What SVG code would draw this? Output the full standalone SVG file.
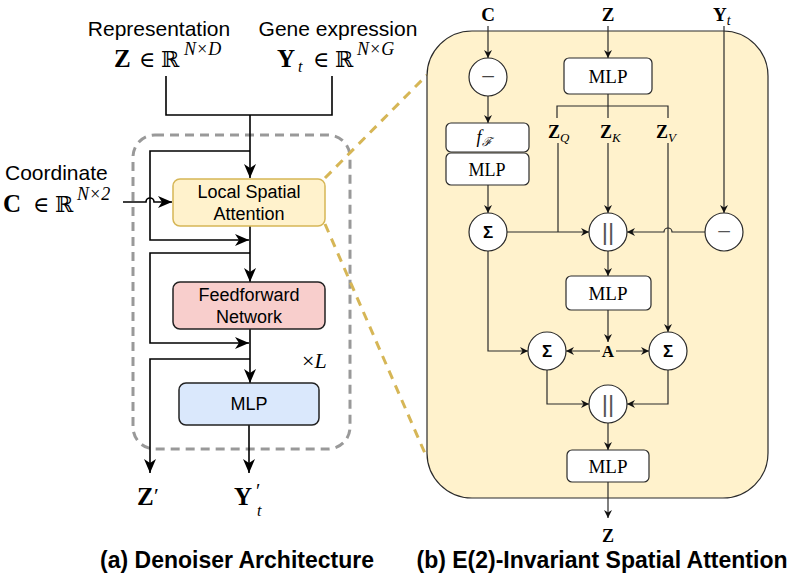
<svg xmlns="http://www.w3.org/2000/svg" width="797" height="578" viewBox="0 0 797 578">
<defs>
<marker id="ah" markerUnits="userSpaceOnUse" viewBox="0 0 14 12" markerWidth="14" markerHeight="12" refX="14" refY="6" orient="auto">
<path d="M0,0 L14,6 L0,12 L4,6 Z" fill="#000"/>
</marker>
<marker id="as" markerUnits="userSpaceOnUse" viewBox="0 0 8 8" markerWidth="8" markerHeight="8" refX="8" refY="4" orient="auto">
<path d="M0,0 L8,4 L0,8 L2.5,4 Z" fill="#111"/>
</marker>
<style>
.sans{font-family:"Liberation Sans",Arial,sans-serif;}
.ser{font-family:"Liberation Serif","DejaVu Serif",serif;}
.bb{font-family:"Liberation Serif","DejaVu Serif",serif;font-weight:bold;}
.it{font-family:"Liberation Serif","DejaVu Serif",serif;font-style:italic;}
.bbs{font-family:"DejaVu Serif",serif;}
.lk{fill:none;stroke:#000;stroke-width:1.6;}
.rk{fill:none;stroke:#2a2a2a;stroke-width:1.2;}
.cir{fill:#fff;stroke:#2a2a2a;stroke-width:1.2;}
.rbox{fill:#fff;stroke:#2a2a2a;stroke-width:1.2;}
.gold{fill:none;stroke:#d6b656;stroke-width:3;stroke-dasharray:9 7;}
</style>
</defs>
<rect width="797" height="578" fill="#fff"/>

<!-- Left panel headers -->
<g id="hdr-z">
<text class="sans" x="159" y="36" font-size="21" text-anchor="middle">Representation</text>
<text class="bb" x="114" y="67" font-size="25">Z</text>
<text class="ser" x="139" y="67" font-size="22">∈</text>
<text class="bbs" x="161" y="67" font-size="22">ℝ</text>
<text class="it" x="184" y="55" font-size="18">N×D</text>
</g>
<g id="hdr-y">
<text class="sans" x="338" y="36" font-size="21" text-anchor="middle">Gene expression</text>
<text class="bb" x="277" y="67" font-size="25">Y</text>
<text class="it" x="298" y="72" font-size="16">t</text>
<text class="ser" x="313" y="67" font-size="22">∈</text>
<text class="bbs" x="335" y="67" font-size="22">ℝ</text>
<text class="it" x="357" y="55" font-size="18">N×G</text>
</g>
<g id="hdr-c">
<text class="sans" x="5" y="180" font-size="21">Coordinate</text>
<text class="bb" x="3" y="212" font-size="25">C</text>
<text class="ser" x="33" y="212" font-size="22">∈</text>
<text class="bbs" x="55" y="212" font-size="22">ℝ</text>
<text class="it" x="77" y="200" font-size="18">N×2</text>
</g>

<!-- repeat block -->
<rect id="repeat" x="133" y="135" width="217" height="314" rx="22" fill="none" stroke="#999" stroke-width="3" stroke-dasharray="9 6"/>
<text class="ser" x="302" y="368" font-size="22">×<tspan class="it">L</tspan></text>

<!-- gold zoom lines -->
<g id="zoomlines">
<line class="gold" x1="325" y1="178" x2="427" y2="75"/>
<line class="gold" x1="325" y1="224" x2="427" y2="458"/>
</g>

<!-- left connectors -->
<g id="left-connectors">
<path class="lk" d="M166,76 V115 H332 V76"/>
<path class="lk" d="M250,115 V178" marker-end="url(#ah)"/>
<path class="lk" d="M250,151 H150 V240 H249" marker-end="url(#ah)"/>
<path class="lk" d="M123,202 H146 A4,4 0 0 1 154,202 H172" marker-end="url(#ah)"/>
<path class="lk" d="M250,226 V282" marker-end="url(#ah)"/>
<path class="lk" d="M250,253 H150 V343 H249" marker-end="url(#ah)"/>
<path class="lk" d="M250,329 V383" marker-end="url(#ah)"/>
<path class="lk" d="M250,359 H150 V473" marker-end="url(#ah)"/>
<path class="lk" d="M249,425 V473" marker-end="url(#ah)"/>
</g>

<!-- left nodes -->
<g id="lsa">
<rect x="173" y="179" width="152" height="47" rx="7" fill="#fff2cc" stroke="#d6b656" stroke-width="1.5"/>
<text class="sans" x="249" y="198" font-size="18" text-anchor="middle">Local Spatial</text>
<text class="sans" x="249" y="220" font-size="18" text-anchor="middle">Attention</text>
</g>
<g id="ffn">
<rect x="173" y="282" width="152" height="47" rx="7" fill="#f8cecc" stroke="#222" stroke-width="1.5"/>
<text class="sans" x="249" y="301" font-size="18" text-anchor="middle">Feedforward</text>
<text class="sans" x="249" y="323" font-size="18" text-anchor="middle">Network</text>
</g>
<g id="mlp-left">
<rect x="179" y="383" width="140" height="42" rx="7" fill="#dae8fc" stroke="#222" stroke-width="1.5"/>
<text class="sans" x="249" y="410" font-size="18" text-anchor="middle">MLP</text>
</g>
<g id="out-z">
<text class="bb" x="137" y="505" font-size="25">Z</text>
<text class="ser" x="154" y="503" font-size="22">′</text>
</g>
<g id="out-y">
<text class="bb" x="234" y="505" font-size="25">Y</text>
<text class="ser" x="256" y="498" font-size="20">′</text>
<text class="it" x="257" y="516" font-size="16">t</text>
</g>
<text class="sans" x="237" y="568" font-size="23" font-weight="bold" text-anchor="middle">(a) Denoiser Architecture</text>

<!-- Right panel -->
<rect id="panel-b" x="427" y="31" width="341" height="467" rx="45" fill="#fff2cc" stroke="#2a2a2a" stroke-width="1.2"/>

<g id="right-connectors">
<path class="rk" d="M488,26 V58" marker-end="url(#as)"/>
<path class="rk" d="M488,96 V123" marker-end="url(#as)"/>
<path class="rk" d="M488,185 V213" marker-end="url(#as)"/>
<path class="rk" d="M608,26 V58" marker-end="url(#as)"/>
<path class="rk" d="M608,94 V118 M557,118 V106 H668 V118"/>
<path class="rk" d="M558,143 V232"/>
<path class="rk" d="M608,143 V213" marker-end="url(#as)"/>
<path class="rk" d="M668,143 V332" marker-end="url(#as)"/>
<path class="rk" d="M507,232 H589" marker-end="url(#as)"/>
<path class="rk" d="M705,232 H672 A4,4 0 0 0 664,232 H627" marker-end="url(#as)"/>
<path class="rk" d="M724,26 V213" marker-end="url(#as)"/>
<path class="rk" d="M608,251 V276" marker-end="url(#as)"/>
<path class="rk" d="M608,310 V342" marker-end="url(#as)"/>
<path class="rk" d="M600,351 H566" marker-end="url(#as)"/>
<path class="rk" d="M616,351 H649" marker-end="url(#as)"/>
<path class="rk" d="M488,251 V351 H528" marker-end="url(#as)"/>
<path class="rk" d="M547,370 V404 H589" marker-end="url(#as)"/>
<path class="rk" d="M668,370 V404 H627" marker-end="url(#as)"/>
<path class="rk" d="M608,423 V450" marker-end="url(#as)"/>
<path class="rk" d="M608,482 V518" marker-end="url(#as)"/>
</g>

<g id="lbl-c"><text class="bb" x="488" y="21" font-size="19" text-anchor="middle">C</text></g>
<g id="lbl-z"><text class="bb" x="608" y="21" font-size="19" text-anchor="middle">Z</text></g>
<g id="lbl-yt"><text class="bb" x="713" y="21" font-size="19">Y<tspan class="it" font-weight="normal" font-size="14" dy="4">t</tspan></text></g>

<g id="neg1"><circle class="cir" cx="488" cy="77" r="19"/><text class="ser" x="488" y="85" font-size="25" fill="#444" text-anchor="middle">−</text></g>
<g id="ff-box"><rect class="rbox" x="446" y="123" width="83" height="29" rx="5"/><text class="it" x="484" y="143" font-size="18" text-anchor="middle">f<tspan font-size="12" dy="3" class="bbs" font-style="italic">ℱ</tspan></text></g>
<g id="mlp-c"><rect class="rbox" x="446" y="153" width="83" height="32" rx="5"/><text class="ser" x="487" y="176" font-size="18" text-anchor="middle">MLP</text></g>
<g id="mlp-z"><rect class="rbox" x="564" y="58" width="88" height="36" rx="5"/><text class="ser" x="608" y="83" font-size="19" text-anchor="middle">MLP</text></g>

<g id="zq"><text class="bb" x="548" y="138" font-size="18">Z<tspan class="it" font-weight="normal" font-size="13" dy="4">Q</tspan></text></g>
<g id="zk"><text class="bb" x="600" y="138" font-size="18">Z<tspan class="it" font-weight="normal" font-size="13" dy="4">K</tspan></text></g>
<g id="zv"><text class="bb" x="656" y="138" font-size="18">Z<tspan class="it" font-weight="normal" font-size="13" dy="4">V</tspan></text></g>

<g id="sum1"><circle class="cir" cx="488" cy="232" r="19"/><text class="sans" x="488" y="238" font-size="17" font-weight="bold" text-anchor="middle">Σ</text></g>
<g id="cat1"><circle class="cir" cx="608" cy="232" r="19"/><text class="sans" x="608" y="240" font-size="24" fill="#555" text-anchor="middle">||</text></g>
<g id="neg2"><circle class="cir" cx="724" cy="232" r="19"/><text class="ser" x="724" y="240" font-size="25" fill="#555" text-anchor="middle">−</text></g>
<g id="mlp-att"><rect class="rbox" x="566" y="276" width="85" height="34" rx="5"/><text class="ser" x="608" y="300" font-size="19" text-anchor="middle">MLP</text></g>
<g id="lbl-a"><text class="bb" x="608" y="357" font-size="17" text-anchor="middle">A</text></g>
<g id="sum2"><circle class="cir" cx="547" cy="351" r="19"/><text class="sans" x="547" y="357" font-size="17" font-weight="bold" text-anchor="middle">Σ</text></g>
<g id="sum3"><circle class="cir" cx="668" cy="351" r="19"/><text class="sans" x="668" y="357" font-size="17" font-weight="bold" text-anchor="middle">Σ</text></g>
<g id="cat2"><circle class="cir" cx="608" cy="404" r="19"/><text class="sans" x="608" y="412" font-size="24" fill="#555" text-anchor="middle">||</text></g>
<g id="mlp-out"><rect class="rbox" x="567" y="450" width="82" height="32" rx="5"/><text class="ser" x="608" y="473" font-size="19" text-anchor="middle">MLP</text></g>
<g id="lbl-zout"><text class="bb" x="608" y="542" font-size="18" text-anchor="middle">Z</text></g>

<text class="sans" x="602" y="568" font-size="23" font-weight="bold" text-anchor="middle">(b) E(2)-Invariant Spatial Attention</text>
</svg>
